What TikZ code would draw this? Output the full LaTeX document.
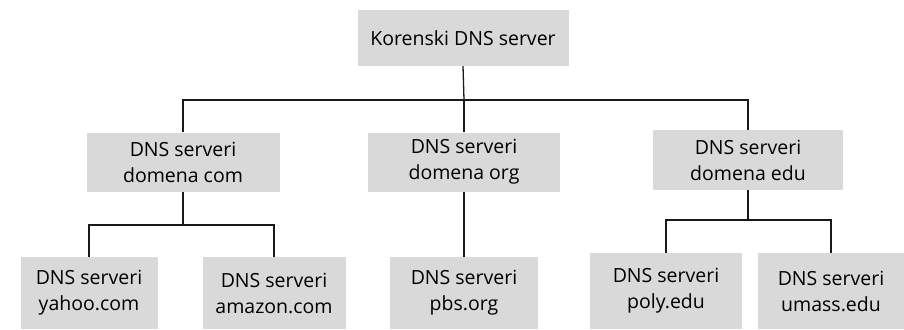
\documentclass[tikz,border=0pt]{standalone}
\usepackage{fontspec}
\setmainfont{Open Sans}
\begin{document}
\begin{tikzpicture}[x=1pt,y=-1pt,
  srv/.style={fill=black!15, inner sep=0pt, align=center, font=\fontsize{19.5}{26}\selectfont, text=black},
  conn/.style={draw=black!90, line width=1.3pt}]
\useasboundingbox (0,0) rectangle (904,329);
\node[srv, minimum width=211, minimum height=56] (root) at (463,38) {Korenski DNS server};
\node[srv, minimum width=193, minimum height=59] (com) at (183,162) {DNS serveri\\domena com};
\node[srv, minimum width=192, minimum height=59] (org) at (464,162) {DNS serveri\\domena org};
\node[srv, minimum width=190, minimum height=60] (edu) at (748,160) {DNS serveri\\domena edu};
\node[srv, minimum width=137, minimum height=72] (yahoo) at (89,293) {DNS serveri\\yahoo.com};
\node[srv, minimum width=143, minimum height=72] (amazon) at (274,293) {DNS serveri\\amazon.com};
\node[srv, minimum width=148, minimum height=72] (pbs) at (464,293) {DNS serveri\\pbs.org};
\node[srv, minimum width=152, minimum height=76] (poly) at (666,291) {DNS serveri\\poly.edu};
\node[srv, minimum width=147, minimum height=76] (umass) at (831,291) {DNS serveri\\umass.edu};
\coordinate (b0) at (464,100);
\coordinate (b1) at (183,225);
\coordinate (b2) at (748,220);
\draw[conn] (root.south) -- (b0);
\draw[conn] (com.north) |- (b0) -| (edu.north);
\draw[conn] (b0) -- (org.north);
\draw[conn] (org.south) -- (pbs.north);
\draw[conn] (com.south) -- (b1);
\draw[conn] (yahoo.north) |- (b1) -| (amazon.north);
\draw[conn] (edu.south) -- (b2);
\draw[conn] (poly.north) |- (b2) -| (umass.north);
\end{tikzpicture}
\end{document}
